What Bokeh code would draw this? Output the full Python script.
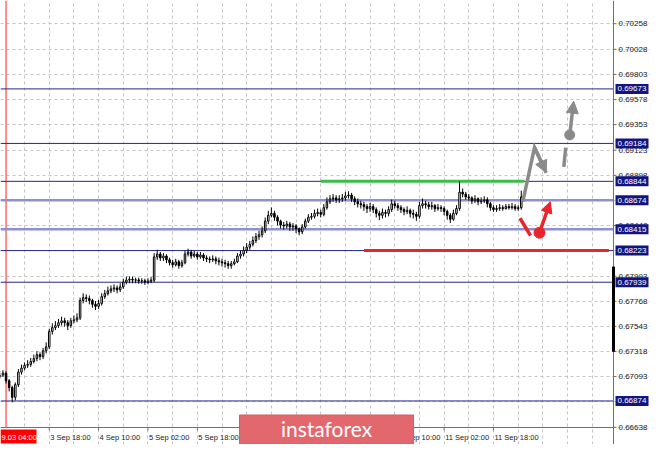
from bokeh.plotting import figure
from bokeh.models import Range1d, FixedTicker, Grid, Arrow, NormalHead
from bokeh.core.properties import value
from bokeh.embed import file_html
from bokeh.resources import INLINE

# ---------------- data (H1 candles) ----------------
first_open = 0.67090
close = [
    0.67107, 0.67124, 0.67055, 0.66994, 0.66907, 0.67020, 0.67133, 0.67168, 0.67194, 0.67202,
    0.67228, 0.67254, 0.67289, 0.67272, 0.67324, 0.67359, 0.67498, 0.67532, 0.67550, 0.67576,
    0.67593, 0.67576, 0.67550, 0.67593, 0.67602, 0.67619, 0.67775, 0.67801, 0.67793, 0.67775,
    0.67741, 0.67723, 0.67749, 0.67810, 0.67836, 0.67862, 0.67879, 0.67888, 0.67871, 0.67897,
    0.67940, 0.67958, 0.67966, 0.67958, 0.67960, 0.67949, 0.67952, 0.67940, 0.67949, 0.67958,
    0.68166, 0.68192, 0.68157, 0.68174, 0.68140, 0.68114, 0.68096, 0.68122, 0.68088, 0.68114,
    0.68192, 0.68209, 0.68174, 0.68192, 0.68166, 0.68183, 0.68157, 0.68148, 0.68140, 0.68148,
    0.68131, 0.68122, 0.68114, 0.68105, 0.68088, 0.68105, 0.68122, 0.68174, 0.68192, 0.68226,
    0.68253, 0.68279, 0.68313, 0.68348, 0.68365, 0.68400, 0.68487, 0.68539, 0.68556, 0.68522,
    0.68487, 0.68452, 0.68444, 0.68461, 0.68435, 0.68444, 0.68418, 0.68391, 0.68435, 0.68487,
    0.68522, 0.68530, 0.68556, 0.68565, 0.68548, 0.68608, 0.68661, 0.68687, 0.68695, 0.68678,
    0.68687, 0.68695, 0.68713, 0.68721, 0.68687, 0.68661, 0.68643, 0.68634, 0.68617, 0.68600,
    0.68617, 0.68591, 0.68556, 0.68539, 0.68565, 0.68556, 0.68591, 0.68643, 0.68626, 0.68608,
    0.68591, 0.68574, 0.68582, 0.68556, 0.68548, 0.68530, 0.68626, 0.68643, 0.68634, 0.68617,
    0.68626, 0.68600, 0.68608, 0.68600, 0.68574, 0.68539, 0.68504, 0.68556, 0.68600, 0.68747,
    0.68730, 0.68704, 0.68695, 0.68669, 0.68687, 0.68661, 0.68669, 0.68678, 0.68643, 0.68608,
    0.68591, 0.68600, 0.68608, 0.68600, 0.68617, 0.68608, 0.68617, 0.68600, 0.68608, 0.68704,
]
high = [
    0.67140, 0.67150, 0.67140, 0.67070, 0.67010, 0.67040, 0.67160, 0.67200, 0.67220, 0.67240,
    0.67260, 0.67290, 0.67320, 0.67310, 0.67350, 0.67400, 0.67520, 0.67570, 0.67590, 0.67610,
    0.67630, 0.67620, 0.67600, 0.67620, 0.67640, 0.67660, 0.67800, 0.67840, 0.67830, 0.67820,
    0.67790, 0.67770, 0.67780, 0.67840, 0.67870, 0.67900, 0.67910, 0.67920, 0.67910, 0.67930,
    0.67970, 0.67990, 0.67990, 0.67990, 0.67980, 0.67980, 0.67975, 0.67970, 0.67975, 0.67985,
    0.68200, 0.68230, 0.68210, 0.68200, 0.68190, 0.68160, 0.68140, 0.68150, 0.68140, 0.68140,
    0.68220, 0.68240, 0.68230, 0.68220, 0.68210, 0.68210, 0.68200, 0.68180, 0.68170, 0.68180,
    0.68170, 0.68160, 0.68150, 0.68140, 0.68130, 0.68130, 0.68150, 0.68200, 0.68220, 0.68260,
    0.68290, 0.68310, 0.68350, 0.68380, 0.68400, 0.68440, 0.68520, 0.68580, 0.68610, 0.68580,
    0.68540, 0.68500, 0.68480, 0.68490, 0.68480, 0.68470, 0.68460, 0.68430, 0.68460, 0.68510,
    0.68550, 0.68560, 0.68590, 0.68600, 0.68590, 0.68640, 0.68700, 0.68720, 0.68730, 0.68720,
    0.68720, 0.68730, 0.68750, 0.68755, 0.68740, 0.68710, 0.68690, 0.68670, 0.68660, 0.68640,
    0.68650, 0.68640, 0.68610, 0.68580, 0.68600, 0.68590, 0.68620, 0.68680, 0.68670, 0.68650,
    0.68630, 0.68610, 0.68620, 0.68600, 0.68590, 0.68570, 0.68660, 0.68690, 0.68670, 0.68660,
    0.68660, 0.68640, 0.68640, 0.68630, 0.68620, 0.68590, 0.68560, 0.68590, 0.68630, 0.68844,
    0.68780, 0.68750, 0.68730, 0.68710, 0.68720, 0.68700, 0.68700, 0.68710, 0.68700, 0.68660,
    0.68630, 0.68630, 0.68640, 0.68630, 0.68640, 0.68640, 0.68650, 0.68640, 0.68630, 0.68760,
]
low = [
    0.67070, 0.67090, 0.67030, 0.66960, 0.66862, 0.66880, 0.67000, 0.67110, 0.67150, 0.67170,
    0.67180, 0.67210, 0.67230, 0.67240, 0.67250, 0.67300, 0.67340, 0.67470, 0.67510, 0.67530,
    0.67550, 0.67540, 0.67510, 0.67530, 0.67570, 0.67580, 0.67600, 0.67750, 0.67760, 0.67740,
    0.67710, 0.67690, 0.67700, 0.67730, 0.67790, 0.67820, 0.67840, 0.67850, 0.67840, 0.67850,
    0.67880, 0.67920, 0.67930, 0.67930, 0.67930, 0.67925, 0.67925, 0.67915, 0.67920, 0.67930,
    0.67940, 0.68140, 0.68130, 0.68130, 0.68110, 0.68090, 0.68070, 0.68080, 0.68060, 0.68070,
    0.68100, 0.68170, 0.68150, 0.68160, 0.68140, 0.68150, 0.68130, 0.68120, 0.68110, 0.68120,
    0.68100, 0.68090, 0.68080, 0.68070, 0.68060, 0.68060, 0.68090, 0.68110, 0.68150, 0.68170,
    0.68200, 0.68230, 0.68260, 0.68290, 0.68320, 0.68340, 0.68380, 0.68460, 0.68520, 0.68490,
    0.68450, 0.68420, 0.68410, 0.68420, 0.68400, 0.68400, 0.68380, 0.68360, 0.68370, 0.68420,
    0.68470, 0.68500, 0.68510, 0.68530, 0.68520, 0.68530, 0.68590, 0.68640, 0.68660, 0.68650,
    0.68650, 0.68660, 0.68670, 0.68690, 0.68660, 0.68630, 0.68610, 0.68600, 0.68580, 0.68560,
    0.68570, 0.68560, 0.68520, 0.68496, 0.68510, 0.68520, 0.68530, 0.68570, 0.68600, 0.68580,
    0.68560, 0.68540, 0.68550, 0.68520, 0.68510, 0.68490, 0.68510, 0.68600, 0.68600, 0.68590,
    0.68590, 0.68570, 0.68580, 0.68570, 0.68540, 0.68500, 0.68470, 0.68490, 0.68540, 0.68580,
    0.68700, 0.68680, 0.68670, 0.68640, 0.68650, 0.68630, 0.68640, 0.68650, 0.68610, 0.68580,
    0.68570, 0.68570, 0.68580, 0.68580, 0.68590, 0.68590, 0.68590, 0.68580, 0.68580, 0.68590,
]

# axis ticks / labels
y_ticks = [0.70258, 0.70028, 0.69803, 0.69578, 0.69353, 0.69123, 0.68898, 0.68673,
           0.68448, 0.68223, 0.67993, 0.67768, 0.67543, 0.67318, 0.67093, 0.66868, 0.66638]
y_hidden = [0.68673, 0.68223, 0.66868]
x_tick_pos = [16, 32, 48, 64, 80, 96, 112, 128, 144, 160]
x_tick_labels = ["3 Sep 18:00", "4 Sep 10:00", "5 Sep 02:00", "5 Sep 18:00", "6 Sep 10:00",
                 "9 Sep 02:00", "9 Sep 18:00", "10 Sep 10:00", "11 Sep 02:00", "11 Sep 18:00"]
cursor_bar = 2
cursor_label = "9.03 04:00"

# horizontal levels
levels_dark = [0.69673, 0.69184, 0.68844, 0.68223, 0.67939, 0.66874]
levels_light = [0.68674, 0.68415]
resistance = {"x0": 104, "x1": 170, "y": 0.68844}
support = {"x0": 118, "x1": 197.4, "y": 0.68223}

# forecast arrows
gray_path_x = [169.5, 173.3, 177.1]
gray_path_y = [0.68661, 0.69147, 0.68921]
gray_break_x = [182.8, 183.4]
gray_break_y = [0.68973, 0.69147]
gray_dot = (184.7, 0.69260)
gray_tip = (186.0, 0.69563)
red_path_x = [168.6, 172.0]
red_path_y = [0.68513, 0.68357]
red_dot = (174.9, 0.68383)
red_tip = (178.4, 0.68661)
scale_bar = (0.68079, 0.67315)

# ---------------- layout constants (pixels) ----------------
W, H = 649, 444          # canvas
CW, CH = 613, 427        # price chart area (rest = price / time scales)
X0, X1 = 0.2, 198.9      # bars visible in chart area
Y0, Y1 = 0.66636, 0.70466
kx = CW / (X1 - X0)
ky = CH / (Y1 - Y0)


def fx(px):
    return X0 + px / kx


def fy(py):
    return Y1 - py / ky


FONT = value("Liberation Sans")
AXIS = "#707070"

p = figure(width=W, height=H, output_backend="svg", toolbar_location=None,
           x_range=Range1d(X0, fx(W)), y_range=Range1d(fy(H), Y1),
           x_axis_type=None, y_axis_type=None,
           min_border_left=0, min_border_top=0, min_border_right=0, min_border_bottom=0)
p.outline_line_color = None
p.background_fill_color = "white"
p.border_fill_color = "white"

# grid
p.add_layout(Grid(dimension=0, ticker=FixedTicker(ticks=list(range(0, 200, 8))), bounds=(Y0, Y1),
                  grid_line_color="#c4c4c4", grid_line_dash="3 3"))
p.add_layout(Grid(dimension=1, ticker=FixedTicker(ticks=y_ticks), bounds=(X0, X1),
                  grid_line_color="#c4c4c4", grid_line_dash="3 3"))

# cursor line
p.segment(x0=[cursor_bar], y0=[Y0], x1=[cursor_bar], y1=[Y1], line_color="#ff6a6a", line_width=1.5)

# level lines
p.segment(x0=[X0] * len(levels_light), y0=levels_light, x1=[X1] * len(levels_light), y1=levels_light,
          line_color="#8f8fd3", line_width=2.5)
p.segment(x0=[X0] * len(levels_dark), y0=levels_dark, x1=[X1] * len(levels_dark), y1=levels_dark,
          line_color="#25258c", line_width=1)
p.segment(x0=[resistance["x0"]], y0=[resistance["y"]], x1=[resistance["x1"]], y1=[resistance["y"]],
          line_color="#3dbb4b", line_width=3)
p.segment(x0=[support["x0"]], y0=[support["y"]], x1=[support["x1"]], y1=[support["y"]],
          line_color="#e8262b", line_width=3)

# candles
idx = list(range(len(close)))
opens = [first_open] + close[:-1]
tops = [max(o, c) for o, c in zip(opens, close)]
bots = [min(o, c) for o, c in zip(opens, close)]
fills = ["white" if c >= o else "black" for o, c in zip(opens, close)]
p.segment(x0=idx, y0=high, x1=idx, y1=low, line_color="black", line_width=1)
p.vbar(x=idx, width=0.5, top=tops, bottom=bots, fill_color=fills, line_color="black", line_width=1)

# forecast arrows
GRAY = "#8a8a8a"
RED = "#e8252b"
p.line(gray_path_x, gray_path_y, line_color=GRAY, line_width=3.5, line_join="miter")
p.add_layout(Arrow(x_start=gray_path_x[1], y_start=gray_path_y[1], x_end=gray_path_x[2], y_end=gray_path_y[2],
                   line_color=GRAY, line_width=3.5,
                   end=NormalHead(size=12, fill_color=GRAY, line_color=GRAY)))
p.line(gray_break_x, gray_break_y, line_color=GRAY, line_width=3.5)
p.scatter([gray_dot[0]], [gray_dot[1]], size=10, fill_color=GRAY, line_color=GRAY)
p.add_layout(Arrow(x_start=gray_dot[0], y_start=gray_dot[1], x_end=gray_tip[0], y_end=gray_tip[1],
                   line_color=GRAY, line_width=3.5,
                   end=NormalHead(size=12, fill_color=GRAY, line_color=GRAY)))
p.line(red_path_x, red_path_y, line_color=RED, line_width=3.5)
p.scatter([red_dot[0]], [red_dot[1]], size=11, fill_color=RED, line_color=RED)
p.add_layout(Arrow(x_start=red_dot[0], y_start=red_dot[1], x_end=red_tip[0], y_end=red_tip[1],
                   line_color=RED, line_width=3.5,
                   end=NormalHead(size=11, fill_color=RED, line_color=RED)))

# ---------------- price scale (right) ----------------
vis_ticks = [t for t in y_ticks if t not in y_hidden]
p.segment(x0=[X1], y0=[fy(H)], x1=[X1], y1=[Y1], line_color=AXIS, line_width=1)
p.segment(x0=[X1] * len(vis_ticks), y0=vis_ticks, x1=[fx(CW + 3)] * len(vis_ticks), y1=vis_ticks,
          line_color=AXIS, line_width=1)
p.text(x=[fx(CW + 5)] * len(vis_ticks), y=vis_ticks, text=[f"{t:.5f}" for t in vis_ticks],
       text_font=FONT, text_font_size="8px", text_color="#202020",
       text_align="left", text_baseline="middle")
# scale position bar
p.quad(left=[fx(CW - 1.5)], right=[fx(CW + 1.5)], top=[scale_bar[0]], bottom=[scale_bar[1]],
       fill_color="black", line_color=None)
# level price tags
tags = levels_dark + levels_light
p.rect(x=[fx(CW + 18.5)] * len(tags), y=tags, width=33, height=10,
       width_units="screen", height_units="screen", fill_color="#14147f", line_color=None)
p.text(x=[fx(CW + 4)] * len(tags), y=tags, text=[f"{t:.5f}" for t in tags],
       text_font=FONT, text_font_size="8px", text_color="white",
       text_align="left", text_baseline="middle")

# ---------------- time scale (bottom) ----------------
p.segment(x0=[fx(0)], y0=[Y0], x1=[X1], y1=[Y0], line_color=AXIS, line_width=1)
p.segment(x0=x_tick_pos, y0=[Y0] * len(x_tick_pos), x1=x_tick_pos, y1=[fy(CH + 3)] * len(x_tick_pos),
          line_color=AXIS, line_width=1)
p.text(x=[t + 1 / kx for t in x_tick_pos], y=[fy(CH + 9.5)] * len(x_tick_pos), text=x_tick_labels,
       text_font=FONT, text_font_size="7.5px", text_color="#202020",
       text_align="left", text_baseline="middle")
# cursor time tag
p.quad(left=[fx(0)], right=[fx(36)], top=[fy(CH + 2)], bottom=[fy(CH + 16)],
       fill_color="#ff0000", line_color=None)
p.text(x=[fx(1)], y=[fy(CH + 9.5)], text=[cursor_label],
       text_font=FONT, text_font_size="7.5px", text_color="white",
       text_align="left", text_baseline="middle")

# ---------------- watermark ----------------
p.rect(x=[fx(326)], y=[fy(CH + 2)], width=174, height=29, width_units="screen", height_units="screen",
       fill_color="#e2686d", line_color="#d25e63")
p.text(x=[fx(326)], y=[fy(CH + 1)], text=["instaforex"], text_font=value("Lato"),
       text_font_size="21px", text_color="white", text_align="center", text_baseline="middle")

open("out.html", "w").write(file_html(p, INLINE))
